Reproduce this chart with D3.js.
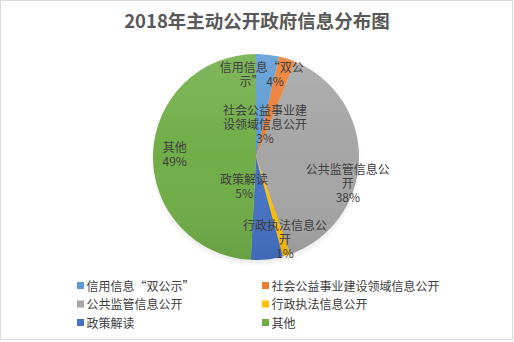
<!DOCTYPE html>
<html>
<head>
<meta charset="utf-8">
<title>2018年主动公开政府信息分布图</title>
<script src="https://d3js.org/d3.v7.min.js"></script>
<style>
body { margin: 0; background: #fff; }
text { font-family: "Microsoft YaHei", "Noto Sans CJK SC", sans-serif; }
</style>
</head>
<body>
<script>
// categories and shares (percent)
var categories = ["信用信息“双公示”", "社会公益事业建设领域信息公开", "公共监管信息公开", "行政执法信息公开", "政策解读", "其他"];
var shares = [3.6, 2.6, 38.4, 1.2, 5.0, 49.2];
var shareLabels = ["4%", "3%", "38%", "1%", "5%", "49%"];
// wrapped data label lines as the chart shows them
var labelLines = [
  ["信用信息“双公", "示” 4%"],
  ["社会公益事业建", "设领域信息公开", "3%"],
  ["公共监管信息公", "开", "38%"],
  ["行政执法信息公", "开", "1%"],
  ["政策解读", "5%"],
  ["其他", "49%"]
];
var colors = ["#5B9BD5", "#ED7D31", "#A5A5A5", "#FFC000", "#4472C4", "#70AD47"];

var width = 514, height = 342;
var cx = 256, cy = 157, radius = 103;

var svg = d3.select("body").append("svg")
  .attr("width", width)
  .attr("height", height);

// chart area border
svg.append("rect")
  .attr("x", 0.5).attr("y", 0.5)
  .attr("width", width - 2).attr("height", height - 3)
  .attr("fill", "#fff")
  .attr("stroke", "#d9d9d9");

svg.append("text")
  .attr("x", width / 2)
  .attr("y", 28)
  .attr("text-anchor", "middle")
  .attr("font-size", 18.5)
  .attr("font-weight", "bold")
  .attr("fill", "#595959")
  .text("2018年主动公开政府信息分布图");

var defs = svg.append("defs");
var sh = defs.append("radialGradient").attr("id", "shadow");
sh.append("stop").attr("offset", "0.85").attr("stop-color", "#000").attr("stop-opacity", 0.18);
sh.append("stop").attr("offset", "1").attr("stop-color", "#000").attr("stop-opacity", 0);

var shade = defs.append("linearGradient").attr("id", "shade")
  .attr("x1", 0).attr("y1", 0).attr("x2", 0).attr("y2", 1);
shade.append("stop").attr("offset", "0").attr("stop-color", "#fff").attr("stop-opacity", 0.12);
shade.append("stop").attr("offset", "0.5").attr("stop-color", "#fff").attr("stop-opacity", 0);
shade.append("stop").attr("offset", "1").attr("stop-color", "#000").attr("stop-opacity", 0.08);

var g = svg.append("g").attr("transform", "translate(" + cx + "," + cy + ")");

// soft shadow under the pie
g.append("ellipse")
  .attr("cx", 0).attr("cy", 4)
  .attr("rx", radius + 3).attr("ry", radius + 3)
  .attr("fill", "url(#shadow)");

var pie = d3.pie().sort(null).value(function(d) { return d; });
var arcs = pie(shares);
var arc = d3.arc().innerRadius(0).outerRadius(radius);

g.selectAll("path.slice")
  .data(arcs)
  .enter()
  .append("path")
  .attr("class", "slice")
  .attr("d", arc)
  .attr("fill", function(d, i) { return colors[i]; });

g.append("circle")
  .attr("r", radius)
  .attr("fill", "url(#shade)");

// label placement: radius factor and angle nudge (degrees) per slice, like Excel's best fit
var labelR = [0.80, 0.32, 0.93, 0.85, 0.31, 0.79];
var labelNudge = [-2.5, -2, 15, -2, 28, 0];
var lineH = 14;

var labels = g.selectAll("text.lbl")
  .data(arcs)
  .enter()
  .append("text")
  .attr("class", "lbl")
  .attr("text-anchor", "middle")
  .attr("font-size", 12)
  .attr("fill", "#404040")
  .attr("transform", function(d, i) {
    var a = (d.startAngle + d.endAngle) / 2 + labelNudge[i] * Math.PI / 180;
    var r = radius * labelR[i];
    var n = labelLines[i].length;
    var x = Math.sin(a) * r;
    var y = -Math.cos(a) * r - (n - 1) * lineH / 2 + 4;
    return "translate(" + x + "," + y + ")";
  });

labels.each(function(d, i) {
  var t = d3.select(this);
  labelLines[i].forEach(function(line, k) {
    t.append("tspan")
      .attr("x", 0)
      .attr("dy", k === 0 ? 0 : lineH)
      .text(line);
  });
});

// legend, two columns
var legendX = [77, 262], legendY = 286, legendStep = 18.5;
var legend = svg.selectAll("g.legend")
  .data(categories)
  .enter()
  .append("g")
  .attr("class", "legend")
  .attr("transform", function(d, i) {
    return "translate(" + legendX[i % 2] + "," + (legendY + Math.floor(i / 2) * legendStep) + ")";
  });

legend.append("rect")
  .attr("x", 0).attr("y", -4)
  .attr("width", 7).attr("height", 7)
  .attr("fill", function(d, i) { return colors[i]; });

legend.append("text")
  .attr("x", 9.5)
  .attr("y", 4.5)
  .attr("font-size", 12)
  .attr("fill", "#404040")
  .text(function(d) { return d; });
</script>
</body>
</html>
